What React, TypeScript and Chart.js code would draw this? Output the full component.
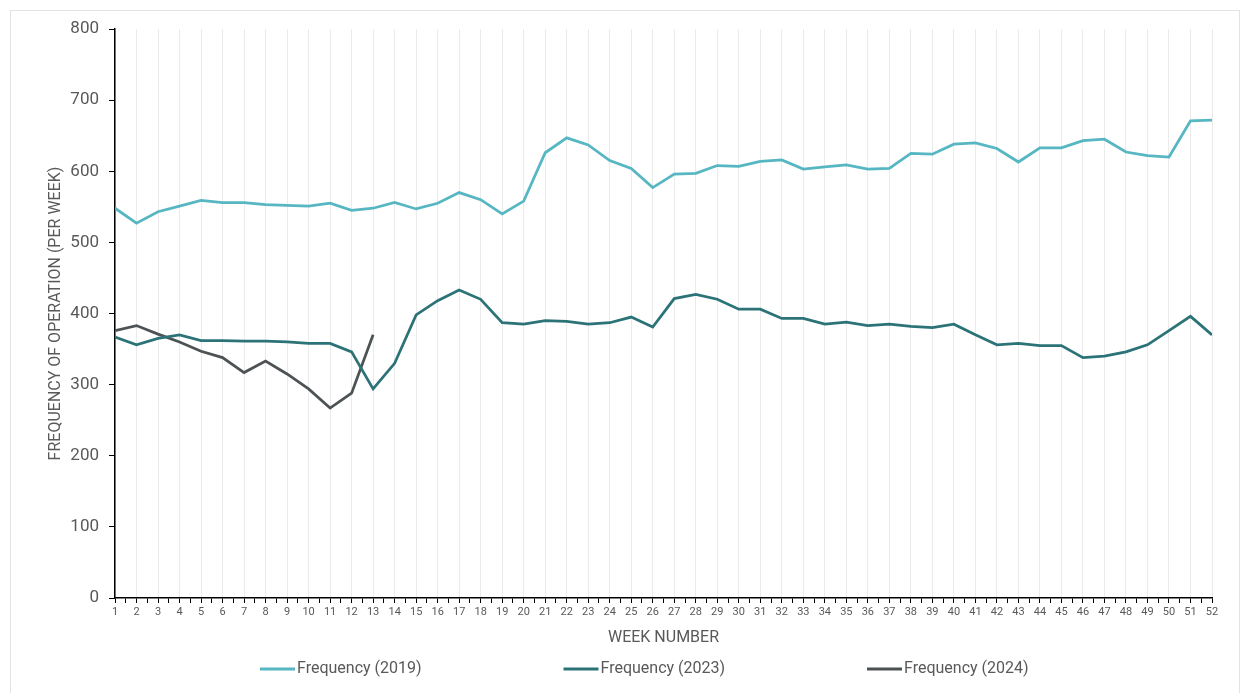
import React, { useEffect, useRef } from "react";
import { Chart, registerables } from "chart.js";

Chart.register(...registerables);

const weeks: number[] = Array.from({ length: 52 }, (_, i) => i + 1);

const freq2019: number[] = [
  548, 527, 543, 551, 559, 556, 556, 553, 552, 551, 555, 545, 548, 556, 547, 555, 570, 560, 540, 558,
  626, 647, 637, 615, 604, 577, 596, 597, 608, 607, 614, 616, 603, 606, 609, 603, 604, 625, 624, 638,
  640, 632, 613, 633, 633, 643, 645, 627, 622, 620, 671, 672,
];

const freq2023: number[] = [
  367, 356, 365, 370, 362, 362, 361, 361, 360, 358, 358, 346, 294, 330, 398, 418, 433, 420, 387, 385,
  390, 389, 385, 387, 395, 381, 421, 427, 420, 406, 406, 393, 393, 385, 388, 383, 385, 382, 380, 385,
  370, 356, 358, 355, 355, 338, 340, 346, 356, 376, 396, 370,
];

const freq2024: number[] = [376, 383, 371, 360, 347, 338, 317, 333, 315, 294, 267, 288, 370];

const seriesLabels: string[] = ["Frequency (2019)", "Frequency (2023)", "Frequency (2024)"];
const seriesColors: string[] = ["#56b6c2", "#2c7378", "#4d5355"];

const yTicks: number[] = [0, 100, 200, 300, 400, 500, 600, 700, 800];

const TEXT = "#595959";
const FONT = "Roboto";

const legendPlugin = {
  id: "customLegend",
  afterDraw(chart: any) {
    const ctx = chart.ctx;
    const cx = chart.width / 2;
    const y = chart.chartArea.bottom + 71;
    ctx.save();
    ctx.font = `16px ${FONT}`;
    ctx.textBaseline = "middle";
    ctx.textAlign = "left";
    chart.data.datasets.forEach((ds: any, i: number) => {
      const x0 = cx - 365 + i * 303.5;
      ctx.fillStyle = ds.borderColor;
      ctx.fillRect(x0, y - 1.5, 35, 3);
      ctx.fillStyle = TEXT;
      ctx.fillText(ds.label, x0 + 37, y);
    });
    ctx.restore();
  },
};

export default function App() {
  const ref = useRef<HTMLCanvasElement | null>(null);

  useEffect(() => {
    if (!ref.current) return;
    const series = [freq2019, freq2023, freq2024];
    const chart = new Chart(ref.current, {
      type: "line",
      data: {
        datasets: series.map((vals, i) => ({
          label: seriesLabels[i],
          data: vals.map((v, j) => ({ x: weeks[j], y: v })),
          borderColor: seriesColors[i],
          backgroundColor: seriesColors[i],
          borderWidth: 2.75,
          pointRadius: 0,
          tension: 0,
          fill: false,
        })),
      },
      options: {
        animation: false,
        responsive: false,
        maintainAspectRatio: false,
        layout: { padding: { left: 30, right: 27, top: 18, bottom: 51 } },
        plugins: {
          legend: { display: false },
          tooltip: { enabled: false },
        },
        scales: {
          x: {
            type: "linear",
            min: 1,
            max: 52,
            afterFit: (s: any) => {
              s.height = 50;
            },
            ticks: {
              stepSize: 0.5,
              autoSkip: false,
              maxRotation: 0,
              minRotation: 0,
              padding: 3,
              color: TEXT,
              font: { family: FONT, size: 11 },
              callback: (v: any) => (Number.isInteger(v) ? String(v) : ""),
            },
            grid: {
              color: (c: any) => (c.tick && Number.isInteger(c.tick.value) ? "#ebebeb" : "rgba(0,0,0,0)"),
              lineWidth: 1,
              drawTicks: true,
              tickLength: 5,
              tickColor: "#000",
            },
            border: { display: true, color: "#000", width: 1.5 },
            title: {
              display: true,
              text: "WEEK NUMBER",
              color: TEXT,
              font: { family: FONT, size: 16 },
              padding: { top: 2, bottom: 0 },
            },
          },
          y: {
            min: 0,
            max: 800,
            afterFit: (s: any) => {
              s.width = 74;
              s.paddingTop = 0;
              s.paddingBottom = 0;
            },
            afterBuildTicks: (s: any) => {
              s.ticks = yTicks.map((v) => ({ value: v }));
            },
            ticks: {
              color: TEXT,
              padding: 10,
              font: { family: FONT, size: 17 },
            },
            grid: {
              drawOnChartArea: false,
              drawTicks: true,
              tickLength: 6,
              tickColor: "#000",
            },
            border: { display: true, color: "#000", width: 1.5 },
            title: {
              display: true,
              text: "FREQUENCY OF OPERATION (PER WEEK)",
              color: TEXT,
              font: { family: FONT, size: 16 },
              padding: { top: 5, bottom: 0 },
            },
          },
        },
      },
      plugins: [legendPlugin],
    });
    return () => chart.destroy();
  }, []);

  return (
    <div style={{ padding: "2px" }}>
      <div
        style={{
          width: 1230,
          height: 690,
          border: "1px solid #e3e3e3",
          boxSizing: "border-box",
          background: "#fff",
        }}
      >
        <canvas ref={ref} width={1228} height={688} style={{ display: "block", width: 1228, height: 688 }} />
      </div>
    </div>
  );
}
